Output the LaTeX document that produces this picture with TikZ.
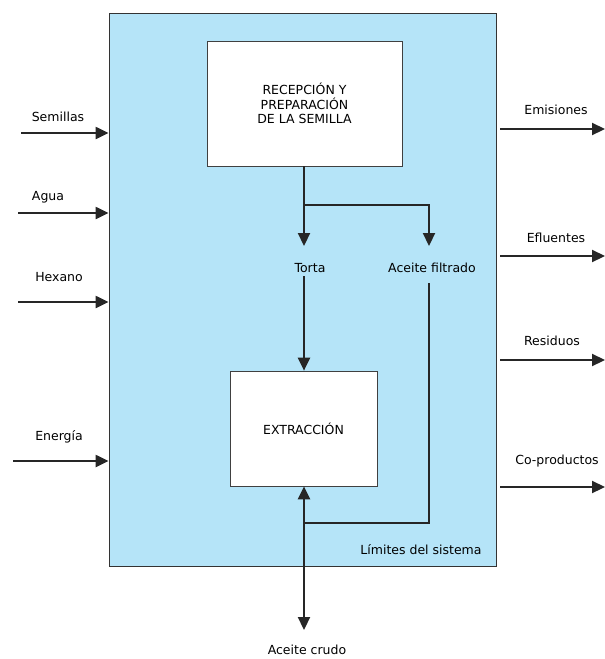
\documentclass[tikz,border=0pt]{standalone}
\usepackage{fontspec}
\setmainfont{DejaVu Sans}
\usetikzlibrary{arrows.meta}
\definecolor{cielo}{RGB}{181,228,248}

\begin{document}
\begin{tikzpicture}[x=1pt,y=-1pt]
	\tikzstyle{every node}+=[inner sep=0pt, font=\fontsize{12.5}{14.5}\selectfont]
	\tikzstyle{linea}=[line width=2.2pt, black!85]
	\tikzstyle{flecha}=[linea, -{Triangle[length=13pt,width=12pt]}]
	\tikzstyle{caja}=[draw=black!75, fill=white, line width=0.7pt, align=center]
	\useasboundingbox (0,0) rectangle (605,659);
	% limites del sistema
	\node [draw=black!80, fill=cielo, line width=0.8pt, minimum width=387, minimum height=553] (sistema) at (302.5,289.5) {};
	\node (limites) at (421,550) {Límites del sistema};
	% procesos
	\node [caja, minimum width=195, minimum height=125] (recep) at (304.5,103.5) {RECEPCIÓN Y\\PREPARACIÓN\\DE LA SEMILLA};
	\node [caja, minimum width=147, minimum height=115] (extr) at (303.5,428.5) {EXTRACCIÓN};
	\node (torta) at (310,268) {Torta};
	\node (filtrado) at (432,268) {Aceite filtrado};
	\node (crudo) at (307,650) {Aceite crudo};
	\coordinate (rama) at (304,205);
	\coordinate (t1) at (304,246);
	\coordinate (f1) at (429,246);
	\coordinate (t2) at (304,276);
	\coordinate (f2) at (429,283);
	\coordinate (retorno) at (429,523);
	\coordinate (union) at (304,523);
	\coordinate (c1) at (304,630);
	\draw [flecha] (recep.south -| rama) -- (t1);
	\draw [flecha] (rama) -| (f1);
	\draw [flecha] (t2) -- (t2 |- extr.north);
	\draw [linea] (f2) -- (retorno) -- (union);
	\draw [flecha] (union) -- (union |- extr.south);
	\draw [flecha] (union) -- (c1);
	% entradas
	\node (semillas) at (58,117) {Semillas};
	\node (agua) at (48,197) {Agua};
	\node (hexano) at (59,277) {Hexano};
	\node (energia) at (59,437) {Energía};
	\coordinate (in1) at (21,133);
	\coordinate (in2) at (18,213);
	\coordinate (in3) at (18,302);
	\coordinate (in4) at (13,461);
	\draw [flecha] (in1) -- (in1 -| sistema.west);
	\draw [flecha] (in2) -- (in2 -| sistema.west);
	\draw [flecha] (in3) -- (in3 -| sistema.west);
	\draw [flecha] (in4) -- (in4 -| sistema.west);
	% salidas
	\node (emisiones) at (556,110) {Emisiones};
	\node (efluentes) at (556,238) {Efluentes};
	\node (residuos) at (552,341) {Residuos};
	\node (coprod) at (557,461) {Co-productos};
	\coordinate (out1) at (605,129);
	\coordinate (out2) at (605,256);
	\coordinate (out3) at (605,360);
	\coordinate (out4) at (605,487);
	\draw [flecha] (out1 -| sistema.east) ++(4,0) -- (out1);
	\draw [flecha] (out2 -| sistema.east) ++(4,0) -- (out2);
	\draw [flecha] (out3 -| sistema.east) ++(4,0) -- (out3);
	\draw [flecha] (out4 -| sistema.east) ++(4,0) -- (out4);
\end{tikzpicture}
\end{document}
